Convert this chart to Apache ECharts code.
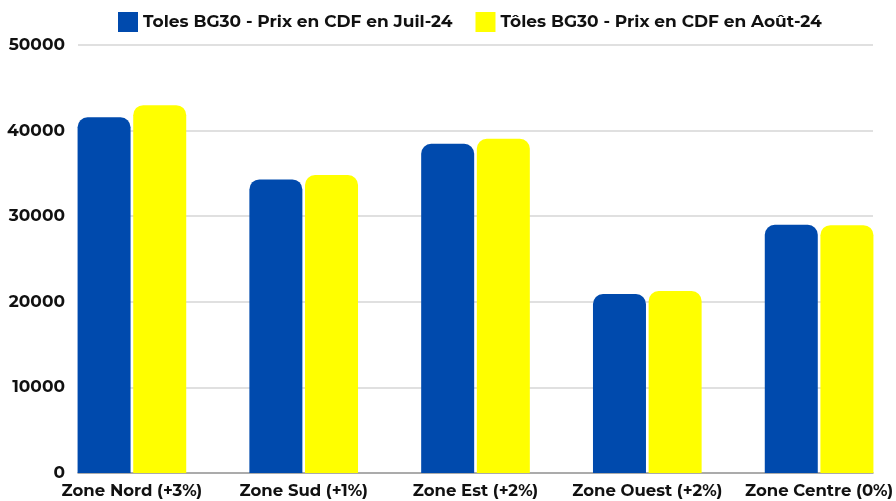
<!DOCTYPE html>
<html>
<head>
<meta charset="utf-8">
<script src="https://cdn.jsdelivr.net/npm/echarts@6/dist/echarts.min.js"></script>
<style>
  html, body { margin: 0; padding: 0; background: #fff; }
  #chart { width: 896px; height: 501px; }
</style>
</head>
<body>
<div id="chart"></div>
<script>
// données
var categories = ['Zone Nord (+3%)', 'Zone Sud (+1%)', 'Zone Est (+2%)', 'Zone Ouest (+2%)', 'Zone Centre (0%)'];
var seriesNames = ['Toles BG30 - Prix en CDF en Juil-24', 'Tôles BG30 - Prix en CDF en Août-24'];
var prixJuil = [41550, 34300, 38450, 20900, 29000];
var prixAout = [42970, 34800, 39050, 21250, 28950];
var yTicks = { min: 0, max: 50000, interval: 10000 };

var font = 'Montserrat, Inter, "DejaVu Sans", sans-serif';
var blue = '#004AAD';
var yellow = '#FFFF00';

var myChart = echarts.init(document.getElementById('chart'));

var option = {
  backgroundColor: '#fff',
  animation: false,
  legend: {
    left: 113,
    top: 7,
    itemWidth: 20,
    itemHeight: 20,
    itemGap: 23,
    icon: 'rect',
    textStyle: { fontFamily: font, fontWeight: 'bold', fontSize: 17, color: '#111' },
    data: seriesNames
  },
  grid: [
    // grille des barres (plus large, pour caler les groupes)
    { left: 46, width: 859, top: 45, bottom: 28, outerBoundsMode: 'none', containLabel: false },
    // grille des axes (lignes + labels y)
    { left: 78, right: 23, top: 45, bottom: 28, outerBoundsMode: 'none', containLabel: false }
  ],
  xAxis: [
    {
      type: 'category',
      gridIndex: 0,
      data: categories,
      axisLine: { show: false },
      axisTick: { show: false },
      axisLabel: {
        interval: 0,
        margin: 10,
        fontFamily: font, fontWeight: 'bold', fontSize: 16.5, color: '#111'
      }
    },
    {
      type: 'category',
      gridIndex: 1,
      data: [''],
      axisLine: { show: true, lineStyle: { color: '#999', width: 1.5 } },
      axisTick: { show: false },
      axisLabel: { show: false }
    }
  ],
  yAxis: [
    {
      type: 'value',
      gridIndex: 0,
      min: yTicks.min,
      max: yTicks.max,
      show: false
    },
    {
      type: 'value',
      gridIndex: 1,
      min: yTicks.min,
      max: yTicks.max,
      interval: yTicks.interval,
      axisLine: { show: false },
      axisTick: { show: false },
      splitLine: { lineStyle: { color: '#d6d6d6', width: 1.5 } },
      axisLabel: {
        margin: 13,
        formatter: function (v) { return String(v); },
        fontFamily: font, fontWeight: 'bold', fontSize: 17, color: '#111'
      }
    }
  ],
  series: [
    {
      name: seriesNames[0],
      type: 'bar',
      xAxisIndex: 0,
      yAxisIndex: 0,
      data: prixJuil,
      barWidth: 53,
      barGap: '5%',
      itemStyle: { color: blue, borderRadius: [10, 10, 0, 0] }
    },
    {
      name: seriesNames[1],
      type: 'bar',
      xAxisIndex: 0,
      yAxisIndex: 0,
      data: prixAout,
      barWidth: 53,
      barGap: '5%',
      itemStyle: { color: yellow, borderRadius: [10, 10, 0, 0] }
    }
  ]
};

myChart.setOption(option);
</script>
</body>
</html>
